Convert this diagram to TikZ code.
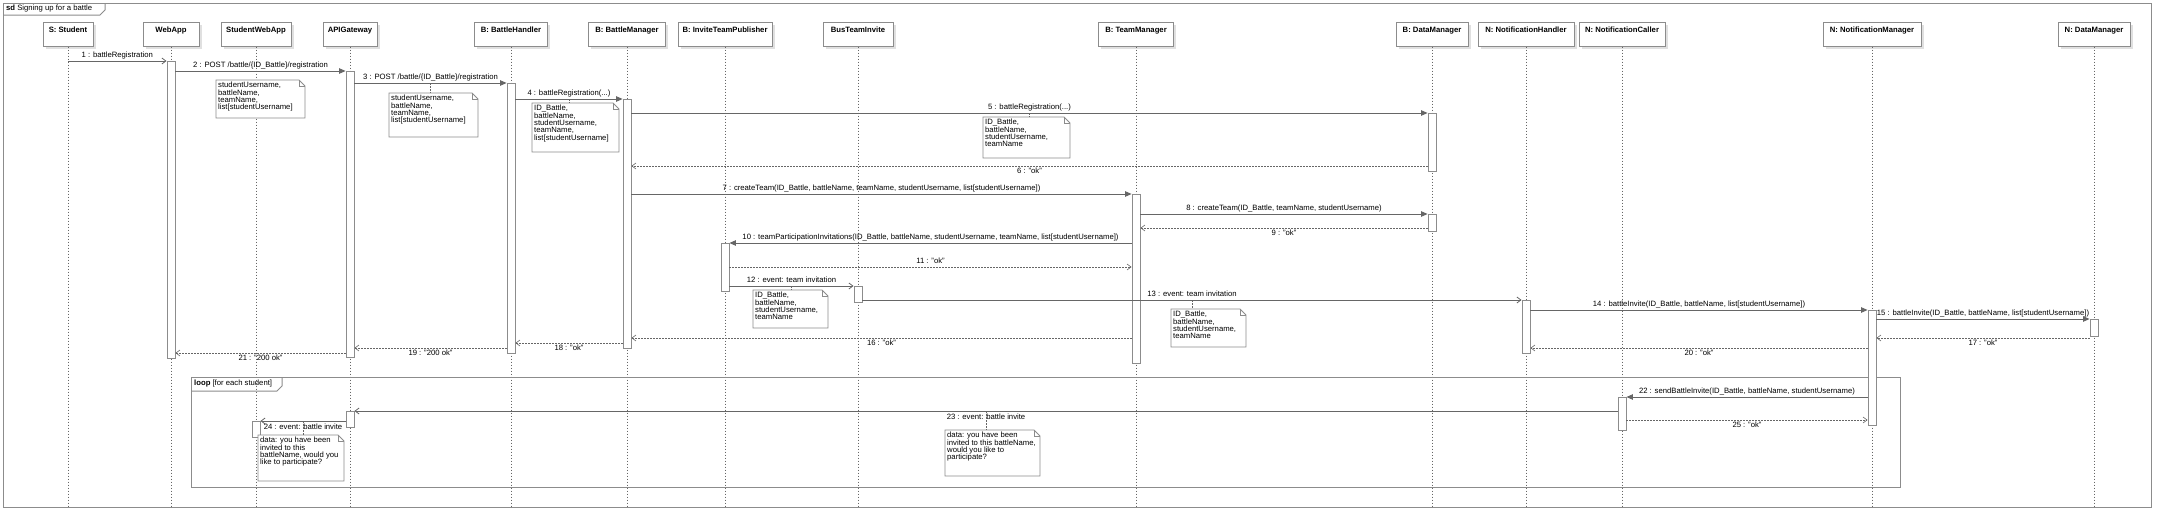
\documentclass[tikz,border=0pt]{standalone}
\usepackage{fontspec}
\setmainfont{Liberation Sans}
\usetikzlibrary{arrows.meta,shadows,calc,positioning}
\definecolor{boxgray}{HTML}{8C8C8C}
\definecolor{linegray}{HTML}{666666}
\tikzstyle{head}     =[draw=boxgray, line width=1pt, fill=white,
                       font=\bfseries\fontsize{7.7}{8.5}\selectfont,
                       minimum height=24pt, inner ysep=3pt,
                       text height=7pt, text depth=11pt,
                       drop shadow={shadow xshift=2.5pt, shadow yshift=-2.5pt,
                                    fill=black!12, opacity=1}]
\tikzstyle{act}      =[draw=boxgray, line width=0.9pt, fill=white,
                       minimum width=8pt, inner sep=0pt, anchor=north]
\tikzstyle{lifeline} =[draw=linegray, line width=0.5pt,
                       dash pattern=on 1.5pt off 1.5pt]
\tikzstyle{call}     =[draw=linegray, line width=0.8pt,
                       -{Triangle[length=6.5pt, width=5.5pt]}]
\tikzstyle{async}    =[draw=linegray, line width=0.8pt,
                       -{Straight Barb[length=4pt, width=6pt]}]
\tikzstyle{ret}      =[async, line width=0.6pt, dash pattern=on 1.5pt off 1.5pt]
\tikzstyle{lbl}      =[font=\fontsize{7.7}{8.5}\selectfont, inner xsep=1pt,
                       inner ysep=1.8pt, text height=5.8pt, text depth=1.6pt]
\tikzstyle{frame}    =[draw=boxgray, line width=1pt]
\tikzstyle{notebox}  =[fill=white, inner sep=0pt, outer sep=0pt,
                       anchor=north west]
\tikzstyle{noteline} =[draw=boxgray, line width=0.9pt]
\tikzstyle{notetext} =[font=\fontsize{7.7}{7.4}\selectfont, align=left,
                       inner sep=0pt, anchor=north west]
\tikzstyle{anchorline}=[draw=linegray, line width=0.5pt,
                       dash pattern=on 1.5pt off 1.5pt]

% note with folded corner: name, top left x/y, bottom right x/y, text
\newcommand{\drawnote}[6]{%
  \node[notebox, minimum width={#4-#2}, minimum height={#5-#3}] (#1) at (#2,#3) {};
  \draw[noteline] (#1.north west) -- ([xshift=-6pt]#1.north east)
        -- ([yshift=-6pt]#1.north east) -- (#1.south east)
        -- (#1.south west) -- cycle;
  \draw[noteline] ([xshift=-6pt]#1.north east) |- ([yshift=-6pt]#1.north east);
  \node[notetext] (#1-text) at ([shift={(2pt,-2pt)}]#1.north west) {#6};
}

\begin{document}
\begin{tikzpicture}[x=1pt, y=-1pt,
        every node/.style={font=\fontsize{7.7}{8.5}\selectfont}]
    \useasboundingbox (0,0) rectangle (2158,514);

    % outer frame
    \draw[frame] (3,3) rectangle (2151,507);
    \draw[frame] (3,15) -- (100,15) -- (105,10) -- (105,3);
    \node[anchor=west, inner sep=0pt] (sdTitle) at (6,9)
        {\textbf{sd} Signing up for a battle};

    % message rows
    \foreach \n/\y in {m1/61,m2/71,m3/83,m4/99,m5/113,m6/166,m7/194,
                       m8/214,m9/228,m10/243,m11/267,m12/286,m13/300,
                       m14/310,m15/319,m16/338,m17/338,m18/343,m19/348,
                       m20/348,m21/353,m22/397,m23/411,m24/421,m25/420}
        \coordinate (\n) at (0,\y);
    \coordinate (fbot) at (0,507);

    % lifeline heads
    \foreach \n/\x/\w/\t in {hStu/68/50/S: Student, hWeb/171/56/WebApp,
                             hSWA/256/70/StudentWebApp, hGw/350/54/APIGateway,
                             hBH/511/73/B: BattleHandler, hBM/627/77/B: BattleManager,
                             hITP/725/94/B: InviteTeamPublisher, hBus/858/70/BusTeamInvite,
                             hTM/1136/75/B: TeamManager, hDM/1432/72/B: DataManager,
                             hNH/1526/96/N: NotificationHandler, hNC/1622/86/N: NotificationCaller,
                             hNM/1872/98/N: NotificationManager, hNDM/2094/72/N: DataManager}
        \node[head, minimum width=\w] (\n) at (\x,34) {\t};

    \foreach \n in {hStu,hWeb,hSWA,hGw,hBH,hBM,hITP,hBus,hTM,hDM,hNH,hNC,hNM,hNDM}
        \draw[lifeline] (\n.south) -- (\n |- fbot);

    % loop fragment
    \draw[frame] (191,377) rectangle (1900,487);
    \draw[frame] (191,391) -- (277,391) -- (282,386) -- (282,377);
    \node[anchor=west, inner sep=0pt] (loopTitle) at (194,384)
        {\textbf{loop} [for each student]};

    % activations
    \node[act, minimum height=297] (aWeb) at (hWeb |- m1) {};
    \node[act, minimum height=286] (aGw)  at (hGw |- m2) {};
    \node[act, minimum height=270] (aBH)  at (hBH |- m3) {};
    \node[act, minimum height=249] (aBM)  at (hBM |- m4) {};
    \node[act, minimum height=58]  (aDM1) at (hDM |- m5) {};
    \node[act, minimum height=169] (aTM)  at (hTM |- m7) {};
    \node[act, minimum height=17]  (aDM2) at (hDM |- m8) {};
    \node[act, minimum height=48]  (aITP) at (hITP |- m10) {};
    \node[act, minimum height=16]  (aBus) at (hBus |- m12) {};
    \node[act, minimum height=53]  (aNH)  at (hNH |- m13) {};
    \node[act, minimum height=115] (aNM)  at (hNM |- m14) {};
    \node[act, minimum height=17]  (aNDM) at (hNDM |- m15) {};
    \node[act, minimum height=33]  (aNC)  at (hNC |- m22) {};
    \node[act, minimum height=16]  (aGw2) at (hGw |- m23) {};
    \node[act, minimum height=16]  (aSWA) at (hSWA |- m24) {};

    % messages
    \draw[async] (hStu |- m1) -- (aWeb.west |- m1)
        node[lbl, midway, above] (l1) {1 : battleRegistration};
    \draw[call] (aWeb.east |- m2) -- (aGw.west |- m2)
        node[lbl, midway, above] (l2) {2 : POST /battle/\{ID\_Battle\}/registration};
    \draw[call] (aGw.east |- m3) -- (aBH.west |- m3)
        node[lbl, midway, above] (l3) {3 : POST /battle/\{ID\_Battle\}/registration};
    \draw[call] (aBH.east |- m4) -- (aBM.west |- m4)
        node[lbl, midway, above] (l4) {4 : battleRegistration(...)};
    \draw[call] (aBM.east |- m5) -- (aDM1.west |- m5)
        node[lbl, midway, above] (l5) {5 : battleRegistration(...)};
    \draw[ret] (aDM1.west |- m6) -- (aBM.east |- m6)
        node[lbl, midway, below] (l6) {6 : "ok"};
    \draw[call] (aBM.east |- m7) -- (aTM.west |- m7)
        node[lbl, midway, above] (l7) {7 : createTeam(ID\_Battle, battleName, teamName, studentUsername, list[studentUsername])};
    \draw[call] (aTM.east |- m8) -- (aDM2.west |- m8)
        node[lbl, midway, above] (l8) {8 : createTeam(ID\_Battle, teamName, studentUsername)};
    \draw[ret] (aDM2.west |- m9) -- (aTM.east |- m9)
        node[lbl, midway, below] (l9) {9 : "ok"};
    \draw[call] (aTM.west |- m10) -- (aITP.east |- m10)
        node[lbl, midway, above] (l10) {10 : teamParticipationInvitations(ID\_Battle, battleName, studentUsername, teamName, list[studentUsername])};
    \draw[ret] (aITP.east |- m11) -- (aTM.west |- m11)
        node[lbl, midway, above] (l11) {11 : "ok"};
    \draw[async] (aITP.east |- m12) -- (aBus.west |- m12)
        node[lbl, midway, above] (l12) {12 : event: team invitation};
    \draw[async] (aBus.east |- m13) -- (aNH.west |- m13)
        node[lbl, midway, above] (l13) {13 : event: team invitation};
    \draw[call] (aNH.east |- m14) -- (aNM.west |- m14)
        node[lbl, midway, above] (l14) {14 : battleInvite(ID\_Battle, battleName, list[studentUsername])};
    \draw[call] (aNM.east |- m15) -- (aNDM.west |- m15)
        node[lbl, midway, above] (l15) {15 : battleInvite(ID\_Battle, battleName, list[studentUsername])};
    \draw[ret] (aTM.west |- m16) -- (aBM.east |- m16)
        node[lbl, midway, below] (l16) {16 : "ok"};
    \draw[ret] (aNDM.west |- m17) -- (aNM.east |- m17)
        node[lbl, midway, below] (l17) {17 : "ok"};
    \draw[ret] (aBM.west |- m18) -- (aBH.east |- m18)
        node[lbl, midway, below] (l18) {18 : "ok"};
    \draw[ret] (aBH.west |- m19) -- (aGw.east |- m19)
        node[lbl, midway, below] (l19) {19 : "200 ok"};
    \draw[ret] (aNM.west |- m20) -- (aNH.east |- m20)
        node[lbl, midway, below] (l20) {20 : "ok"};
    \draw[ret] (aGw.west |- m21) -- (aWeb.east |- m21)
        node[lbl, midway, below] (l21) {21 : "200 ok"};
    \draw[call] (aNM.west |- m22) -- (aNC.east |- m22)
        node[lbl, midway, above] (l22) {22 : sendBattleInvite(ID\_Battle, battleName, studentUsername)};
    \draw[async] (aNC.west |- m23) -- (aGw2.east |- m23)
        node[lbl, midway, below] (l23) {23 : event: battle invite};
    \draw[async] (aGw2.west |- m24) -- (aSWA.east |- m24)
        node[lbl, midway, below] (l24) {24 : event: battle invite};
    \draw[ret] (aNC.east |- m25) -- (aNM.west |- m25)
        node[lbl, midway, below] (l25) {25 : "ok"};

    % notes
    \drawnote{n1}{216}{80}{305}{118}{studentUsername,\\battleName,\\teamName,\\list[studentUsername]}
    \drawnote{n2}{389}{93}{478}{137}{studentUsername,\\battleName,\\teamName,\\list[studentUsername]}
    \drawnote{n3}{532}{103}{619}{152}{ID\_Battle,\\battleName,\\studentUsername,\\teamName,\\list[studentUsername]}
    \drawnote{n4}{983}{117}{1070}{158}{ID\_Battle,\\battleName,\\studentUsername,\\teamName}
    \drawnote{n5}{753}{290}{828}{328}{ID\_Battle,\\battleName,\\studentUsername,\\teamName}
    \drawnote{n6}{1171}{309}{1246}{347}{ID\_Battle,\\battleName,\\studentUsername,\\teamName}
    \drawnote{n7}{945}{430}{1040}{476}{data: you have been\\invited to this battleName,\\would you like to\\participate?}
    \drawnote{n8}{258}{435}{344}{481}{data: you have been\\invited to this\\battleName, would you\\like to participate?}

    \draw[anchorline] (l3 |- m3) -- (l3 |- n2.north);
    \draw[anchorline] (l4 |- m4) -- (l4 |- n3.north);
    \draw[anchorline] (l5 |- m5) -- (l5 |- n4.north);
    \draw[anchorline] (l12 |- m12) -- (l12 |- n5.north);
    \draw[anchorline] (l13 |- m13) -- (l13 |- n6.north);
    \draw[anchorline] (l23 |- m23) -- (l23 |- n7.north);
    \draw[anchorline] (l24 |- m24) -- (l24 |- n8.north);
\end{tikzpicture}
\end{document}
